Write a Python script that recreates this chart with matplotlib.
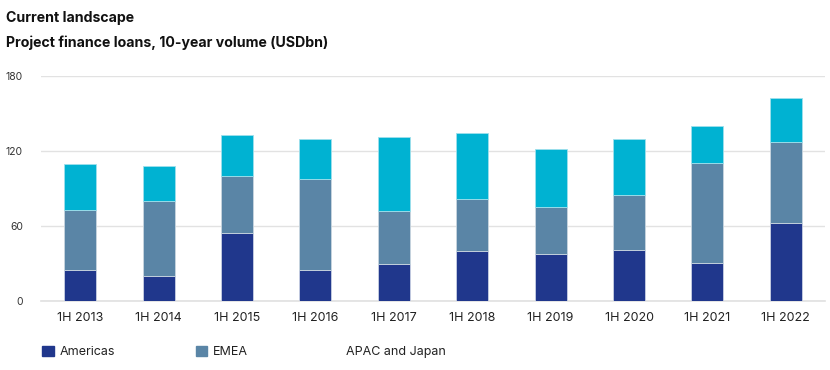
import matplotlib.pyplot as plt
from matplotlib.patches import Patch
import numpy as np

plt.rcParams['font.family'] = ['Inter', 'DejaVu Sans']

periods = ['1H 2013', '1H 2014', '1H 2015', '1H 2016', '1H 2017',
           '1H 2018', '1H 2019', '1H 2020', '1H 2021', '1H 2022']
americas = [24.6, 19.8, 54.5, 24.6, 29.6, 39.8, 37.7, 40.6, 30.4, 62.0]
emea = [48.0, 60.1, 45.4, 73.2, 42.0, 41.9, 37.1, 44.1, 79.6, 65.1]
apac = [37.2, 27.7, 33.1, 32.0, 59.3, 52.4, 47.0, 45.1, 30.0, 35.0]
yticks = [0, 60, 120, 180]

c_am = '#20378c'
c_em = '#5a85a6'
c_ap = '#00b2d2'

fig = plt.figure(figsize=(8.3, 3.7), dpi=100)
ax = fig.add_axes([41 / 830, 1 - 300.7 / 370, 784 / 830, 224.7 / 370])

x = np.arange(len(periods))
w = 0.41
ax.bar(x, americas, w, color=c_am, edgecolor='#c9d0e3', linewidth=0.6, zorder=3)
ax.bar(x, emea, w, bottom=americas, color=c_em, edgecolor='#c9d6e0', linewidth=0.6, zorder=3)
bottom2 = np.array(americas) + np.array(emea)
ax.bar(x, apac, w, bottom=bottom2, color=c_ap, edgecolor='#9fe0ec', linewidth=0.6, zorder=3)

ax.set_xlim(-0.5, len(periods) - 0.5)
ax.set_ylim(0, 180)
ax.set_yticks(yticks)
ax.set_yticklabels([str(t) for t in yticks], fontsize=7.5, color='#333333')
ax.set_xticks(x)
ax.set_xticklabels(periods, fontsize=9, color='#222222')
ax.tick_params(axis='both', length=0)
ax.tick_params(axis='x', pad=8)
ax.tick_params(axis='y', pad=13)
ax.grid(axis='y', color='#e2e2e2', lw=1, zorder=0)
for s in ['top', 'right', 'left']:
    ax.spines[s].set_visible(False)
ax.spines['bottom'].set_color('#e0e0e0')
ax.spines['bottom'].set_linewidth(1.2)

fig.text(6 / 830, 1 - 18 / 370, 'Current landscape', fontsize=10.2,
         fontweight='bold', va='center', color='#111111')
fig.text(6 / 830, 1 - 43 / 370, 'Project finance loans, 10-year volume (USDbn)',
         fontsize=10.2, fontweight='bold', va='center', color='#111111')

handles = [Patch(facecolor=c_am, edgecolor=c_am),
           Patch(facecolor=c_em, edgecolor=c_em),
           Patch(facecolor='white', edgecolor='white')]
fig.legend(handles, ['Americas', 'EMEA', 'APAC and Japan'],
           loc='center left', bbox_to_anchor=(31 / 830, 1 - 352 / 370),
           ncol=3, frameon=False, fontsize=9, handlelength=0.9,
           handleheight=0.9, handletextpad=0.5, columnspacing=6.45,
           labelcolor='#222222')

fig.savefig('out.png', dpi=100)
